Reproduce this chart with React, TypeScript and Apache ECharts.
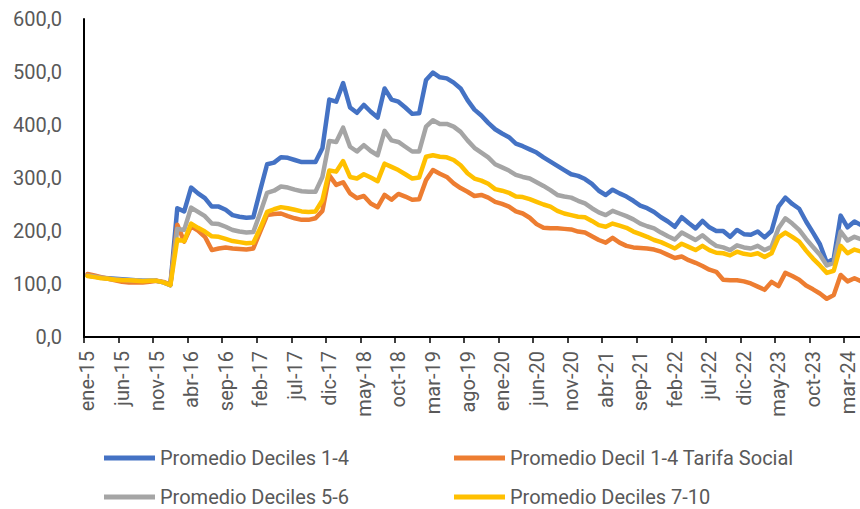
import React, { useEffect, useRef } from "react";
import * as echarts from "echarts";

// Month abbreviations (Spanish) used for the category labels
const MONTHS = ["ene", "feb", "mar", "abr", "may", "jun", "jul", "ago", "sep", "oct", "nov", "dic"];
const YEARS = ["15", "16", "17", "18", "19", "20", "21", "22", "23", "24"];
const LAST_MONTH_2024 = 5; // data ends in may-24

const CATEGORIES: string[] = [];
YEARS.forEach((yy, yi) => {
  const n = yi === YEARS.length - 1 ? LAST_MONTH_2024 : 12;
  for (let m = 0; m < n; m++) CATEGORIES.push(`${MONTHS[m]}-${yy}`);
});

const Y_TICKS = [0, 100, 200, 300, 400, 500, 600];

const DECILES_1_4 = [
  116, 114, 112, 111, 110, 109, 108, 107, 106, 106, 106, 103, 98,
  243, 237, 282, 271, 262, 246, 246, 240, 230, 227, 225, 226, 277, 326, 329,
  339, 338, 334, 330, 330, 330, 356, 448, 444, 479, 433, 423, 438, 425, 414, 469, 448, 444, 433, 421, 422, 485, 499, 490, 488, 480, 469, 447, 429, 418,
  404, 392, 384, 377, 365, 360, 354, 348, 339, 331, 323, 315, 307, 304, 298, 289, 276, 268, 278, 271, 265, 257, 248, 243, 236, 226, 218,
  208, 226, 215, 205, 219, 207, 200, 200, 189, 202, 194, 193, 199, 188, 200, 246, 263, 251, 242, 218, 197, 175, 140, 148, 229, 207, 218, 211,
];

const DECIL_1_4_TS = [
  119, 116, 113, 110, 107, 104, 103, 103, 103, 104, 106, 104, 99,
  212, 180, 209, 201, 189, 164, 167, 169, 167, 166, 165, 167, 199, 230, 232,
  233, 228, 224, 221, 221, 224, 238, 305, 287, 292, 271, 262, 266, 252, 245, 268, 259, 270, 265, 259, 260, 296, 315, 308, 302, 290, 281, 274, 266, 268,
  263, 255, 251, 246, 237, 233, 225, 213, 206, 205, 205, 204, 203, 199, 197, 190, 183, 178, 187, 178, 172, 169, 168, 167, 165, 161, 155,
  149, 152, 145, 140, 134, 127, 123, 108, 107, 107, 105, 101, 95, 89, 104, 96, 121, 115, 108, 97, 90, 82, 72, 79, 117, 105, 111, 105,
];

const DECILES_5_6 = [
  116, 114, 112, 110, 109, 108, 107, 107, 106, 106, 106, 103, 98,
  204, 202, 244, 236, 228, 214, 213, 208, 202, 199, 197, 198, 234, 272, 276,
  284, 282, 278, 275, 274, 274, 302, 370, 368, 395, 359, 350, 362, 351, 343, 389, 371, 368, 359, 350, 350, 397, 409, 402, 402, 397, 387, 371, 357, 348,
  339, 326, 320, 314, 306, 302, 299, 292, 285, 277, 268, 265, 263, 257, 252, 243, 235, 230, 238, 233, 228, 222, 214, 209, 205, 197, 190,
  184, 197, 190, 183, 192, 181, 172, 169, 164, 173, 169, 167, 172, 164, 170, 205, 224, 214, 202, 185, 170, 155, 135, 140, 199, 182, 189, 184,
];

const DECILES_7_10 = [
  115, 113, 111, 110, 108, 107, 107, 106, 105, 106, 106, 103, 98,
  184, 181, 214, 206, 199, 190, 189, 185, 181, 179, 177, 178, 205, 236, 241,
  245, 243, 240, 237, 236, 237, 258, 314, 312, 332, 302, 299, 307, 301, 294, 327, 321, 315, 307, 299, 301, 340, 343, 340, 339, 334, 324, 309, 299, 295,
  289, 279, 276, 272, 265, 264, 260, 255, 250, 246, 238, 233, 230, 227, 226, 219, 211, 208, 214, 210, 206, 199, 194, 189, 183, 179, 173,
  167, 176, 170, 164, 172, 164, 159, 158, 154, 161, 157, 155, 158, 151, 158, 188, 197, 189, 180, 163, 148, 135, 121, 125, 172, 158, 165, 161,
];

const SERIES_NAMES = [
  "Promedio Deciles 1-4",
  "Promedio Decil 1-4 Tarifa Social",
  "Promedio Deciles 5-6",
  "Promedio Deciles 7-10",
];
const SERIES_VALUES = [DECILES_1_4, DECIL_1_4_TS, DECILES_5_6, DECILES_7_10];
const COLORS = ["#4472C4", "#ED7D31", "#A5A5A5", "#FFC000"];

const FONT = "Roboto, 'Noto Sans', sans-serif";
const LEGEND_POS = [
  { left: 104, top: 448 },
  { left: 454, top: 448 },
  { left: 104, top: 487 },
  { left: 454, top: 487 },
];

export default function App() {
  const ref = useRef<HTMLDivElement>(null);

  useEffect(() => {
    if (!ref.current) return;
    const chart = echarts.init(ref.current, undefined, { renderer: "svg" });
    const bandW = 6.91;
    chart.setOption({
      animation: false,
      backgroundColor: "#ffffff",
      grid: {
        left: 84,
        top: 19,
        height: 318,
        width: bandW * CATEGORIES.length,
        containLabel: false,
        outerBoundsMode: "none",
      },
      xAxis: {
        type: "category",
        data: CATEGORIES,
        boundaryGap: true,
        axisLine: { show: true, lineStyle: { color: "#000000", width: 2 } },
        axisTick: {
          show: true,
          interval: 4,
          alignWithLabel: false,
          length: 6,
          lineStyle: { color: "#000000", width: 1.5 },
        },
        axisLabel: {
          interval: 4,
          rotate: 90,
          margin: 14,
          color: "#595959",
          fontSize: 20,
          fontFamily: FONT,
          hideOverlap: false,
        },
        splitLine: { show: false },
      },
      yAxis: {
        type: "value",
        min: Y_TICKS[0],
        max: Y_TICKS[Y_TICKS.length - 1],
        interval: 100,
        axisLine: { show: true, lineStyle: { color: "#000000", width: 2 } },
        axisTick: { show: false },
        splitLine: { show: false },
        axisLabel: {
          margin: 22,
          color: "#595959",
          fontSize: 20,
          fontFamily: FONT,
          formatter: (v: number) => v.toFixed(1).replace(".", ","),
        },
      },
      legend: SERIES_NAMES.map((name, k) => ({
        data: [name],
        left: LEGEND_POS[k].left,
        top: LEGEND_POS[k].top,
        padding: 0,
        itemWidth: 51,
        itemHeight: 5,
        icon: "rect",
        selectedMode: false,
        textStyle: { fontSize: 20, color: "#595959", fontFamily: FONT },
      })),
      series: SERIES_NAMES.map((name, k) => ({
        name,
        type: "line",
        data: SERIES_VALUES[k],
        symbol: "none",
        showSymbol: false,
        smooth: false,
        color: COLORS[k],
        lineStyle: { color: COLORS[k], width: 4.5, cap: "round", join: "round" },
        itemStyle: { color: COLORS[k] },
        z: 2 + k,
      })),
    });
    return () => chart.dispose();
  }, []);

  return (
    <div
      ref={ref}
      style={{ position: "fixed", left: 0, top: 0, width: 860, height: 509, background: "#fff" }}
    />
  );
}
